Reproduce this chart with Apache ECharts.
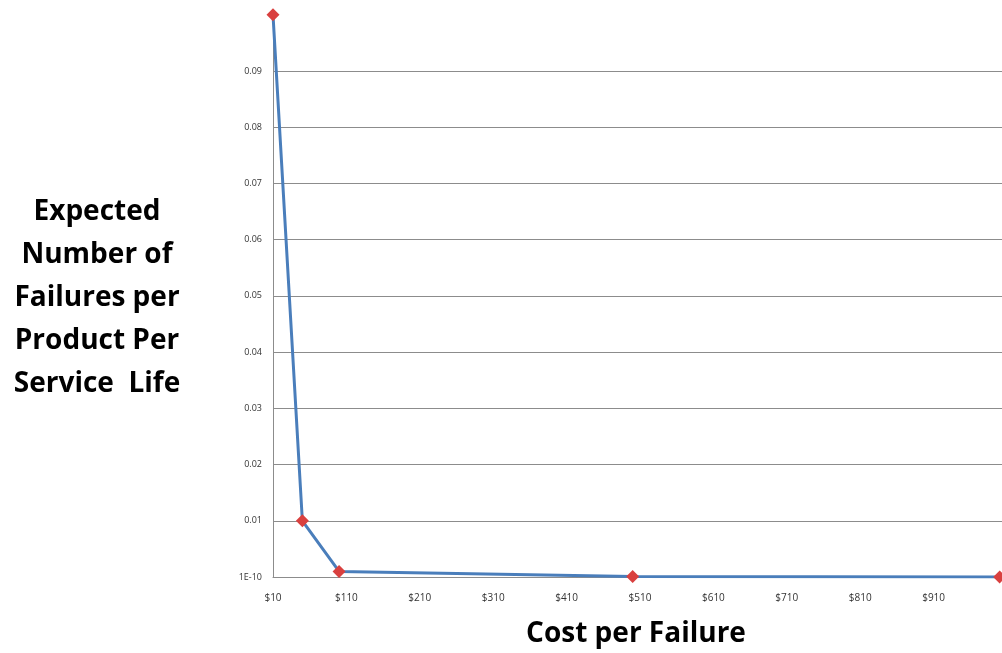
<!DOCTYPE html>
<html>
<head>
<meta charset="utf-8">
<script src="https://cdn.jsdelivr.net/npm/echarts@6/dist/echarts.min.js"></script>
<style>
  html, body { margin: 0; padding: 0; background: #fff; }
  #chart { width: 1002px; height: 653px; }
</style>
</head>
<body>
<div id="chart"></div>
<script>
// Cost per failure ($) and expected failures per product per service life
const costs = [10, 50, 100, 500, 1000];
const failures = [0.1, 0.01, 0.001, 0.0001, 0.00001];
// Horizontal gridlines (the top 0.1 line is not drawn)
const gridValues = [0.01, 0.02, 0.03, 0.04, 0.05, 0.06, 0.07, 0.08, 0.09];

const chart = echarts.init(document.getElementById('chart'));
const titleFont = '"Open Sans", "Liberation Sans", sans-serif';

chart.setOption({
  animation: false,
  grid: { left: 273, top: 14.8, width: 734, height: 562.2, outerBoundsMode: 'none', containLabel: false },
  xAxis: {
    type: 'value', min: 10, max: 1010, interval: 100,
    axisLine: { show: true, lineStyle: { color: '#8c8c8c', width: 1 } },
    axisTick: { show: false },
    splitLine: { show: false },
    axisLabel: {
      margin: 16, fontSize: 10, color: '#333', fontFamily: titleFont,
      showMaxLabel: false,
      formatter: v => '$' + v
    }
  },
  yAxis: {
    type: 'value', min: 0, max: 0.1, interval: 0.01,
    axisLine: { show: true, lineStyle: { color: '#8c8c8c', width: 1 } },
    axisTick: { show: false },
    splitLine: { show: false },
    axisLabel: {
      margin: 11, fontSize: 9, color: '#333', fontFamily: titleFont,
      showMaxLabel: false,
      formatter: v => (v === 0 ? '1E-10' : v.toFixed(2))
    }
  },
  graphic: [
    {
      type: 'text',
      style: {
        text: 'Expected\nNumber of\nFailures per\nProduct Per\nService  Life',
        x: 97, y: 191, align: 'center',
        font: 'bold 28px ' + titleFont, lineHeight: 43, fill: '#000'
      }
    },
    {
      type: 'text',
      style: {
        text: 'Cost per Failure', x: 636, y: 620, align: 'center',
        font: 'bold 28px ' + titleFont, fill: '#000'
      }
    }
  ],
  series: [{
    type: 'line',
    data: costs.map((c, i) => [c, failures[i]]),
    symbol: 'diamond', symbolSize: 13,
    lineStyle: { color: '#4a7ebb', width: 3 },
    itemStyle: { color: '#d9403f' },
    z: 3,
    markLine: {
      silent: true, symbol: 'none', z: 1,
      label: { show: false },
      lineStyle: { color: '#8c8c8c', width: 1, type: 'solid' },
      data: gridValues.map(v => ({ yAxis: v }))
    }
  }]
});
</script>
</body>
</html>
